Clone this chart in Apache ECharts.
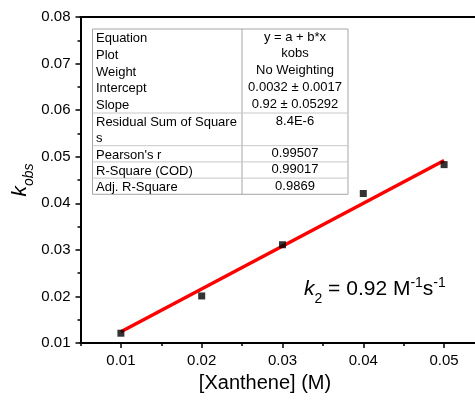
<!DOCTYPE html>
<html>
<head>
<meta charset="utf-8">
<script src="https://cdn.jsdelivr.net/npm/echarts@6/dist/echarts.min.js"></script>
<style>
  html, body { margin: 0; padding: 0; background: #fff; }
  #chart { width: 475px; height: 402px; }
</style>
</head>
<body>
<div id="chart"></div>
<script>
// Xanthene concentration (M) and observed rate constants
const xanthene = [0.01, 0.02, 0.03, 0.04, 0.05];
const kobs = [0.0121, 0.0201, 0.0311, 0.0421, 0.0483];

// Linear fit y = a + b*x
const fitIntercept = 0.0032;
const fitSlope = 0.92;

// Axis tick values
const xMajorTicks = [0.01, 0.02, 0.03, 0.04, 0.05];
const xMinorTicks = [0.005, 0.015, 0.025, 0.035, 0.045];

// Fit report table
const tableLabels = ['Equation', 'Plot', 'Weight', 'Intercept', 'Slope',
  'Residual Sum of Square\ns', "Pearson's r", 'R-Square (COD)', 'Adj. R-Square'];
const tableValues = ['y = a + b*x', 'kobs', 'No Weighting', '0.0032 \u00b1 0.0017',
  '0.92 \u00b1 0.05292', '8.4E-6', '0.99507', '0.99017', '0.9869'];

const FONT = 'Liberation Sans, Arial, sans-serif';

const fitLine = [xanthene[0], xanthene[xanthene.length - 1]]
  .map(x => [x, fitIntercept + fitSlope * x]);

// Table geometry
const tL = 92.5, tR = 348, tC = 242, tTop = 29;
const rowH = 16.8;
const rowTops = [];
let yy = tTop;
for (let i = 0; i < tableLabels.length; i++) {
  rowTops.push(yy);
  yy += (i === 5) ? 32.7 : (i > 5 ? 16.2 : rowH);
}
const tBottom = yy;

const graphics = [];
graphics.push({
  type: 'rect', z: 10,
  shape: { x: tL, y: tTop, width: tR - tL, height: tBottom - tTop },
  style: { fill: '#fff', stroke: '#a6a6a6', lineWidth: 1 }
});
graphics.push({
  type: 'line', z: 11,
  shape: { x1: tC, y1: tTop, x2: tC, y2: tBottom },
  style: { stroke: '#a6a6a6', lineWidth: 1 }
});
// separators after Slope, Residual, Pearson, R-Square rows
[5, 6, 7, 8].forEach(i => {
  graphics.push({
    type: 'line', z: 11,
    shape: { x1: tL, y1: rowTops[i], x2: tR, y2: rowTops[i] },
    style: { stroke: '#c8c8c8', lineWidth: 1 }
  });
});
tableLabels.forEach((lab, i) => {
  graphics.push({
    type: 'text', z: 12,
    style: {
      x: 96, y: rowTops[i] + 1.5, text: lab,
      font: '13px ' + FONT, fill: '#000',
      textVerticalAlign: 'top', lineHeight: 16
    }
  });
  graphics.push({
    type: 'text', z: 12,
    style: {
      x: (tC + tR) / 2, y: rowTops[i] + 1.5, text: tableValues[i],
      font: '13px ' + FONT, fill: '#000',
      textAlign: 'center', textVerticalAlign: 'top'
    }
  });
});

// Rate constant annotation
graphics.push({
  type: 'text', z: 12,
  style: {
    x: 304, y: 289,
    text: '{k|k}{sub|2}{n| = 0.92 M}{sup|-1}{n|s}{sup|-1}',
    textVerticalAlign: 'middle',
    rich: {
      k: { fontFamily: FONT, fontSize: 21, fontStyle: 'italic', lineHeight: 26, fill: '#000' },
      n: { fontFamily: FONT, fontSize: 21, lineHeight: 26, fill: '#000' },
      sub: { fontFamily: FONT, fontSize: 14, verticalAlign: 'bottom', lineHeight: 26, padding: [0, 0, -4, 0], fill: '#000' },
      sup: { fontFamily: FONT, fontSize: 14, verticalAlign: 'top', lineHeight: 26, padding: [0, 0, 4, 0], fill: '#000' }
    }
  }
});

// X axis title
graphics.push({
  type: 'text',
  style: {
    x: 265, y: 383, text: '[Xanthene] (M)',
    font: '20px ' + FONT, fill: '#000',
    textAlign: 'center', textVerticalAlign: 'middle'
  }
});

const chart = echarts.init(document.getElementById('chart'), null, { renderer: 'canvas' });

const axisLabelStyle = { color: '#000', fontFamily: FONT, fontSize: 15 };

chart.setOption({
  backgroundColor: '#fff',
  animation: false,
  grid: { left: 80.5, top: 17, width: 404, height: 326, show: false, containLabel: false, outerBoundsMode: 'none' },
  xAxis: [
    {
      type: 'value', min: 0.005, max: 0.055, position: 'bottom',
      axisLine: { show: true, onZero: false, lineStyle: { color: '#000', width: 2 } },
      axisTick: { show: true, length: 5, customValues: xMajorTicks, lineStyle: { color: '#000', width: 1.5 } },
      axisLabel: { show: true, customValues: xMajorTicks, margin: 10, formatter: v => v.toFixed(2), ...axisLabelStyle },
      splitLine: { show: false }
    },
    {
      type: 'value', min: 0.005, max: 0.055, position: 'bottom', offset: 0,
      axisLine: { show: false, onZero: false },
      axisTick: { show: true, length: 3, customValues: xMinorTicks, lineStyle: { color: '#000', width: 1.5 } },
      axisLabel: { show: false },
      splitLine: { show: false }
    },
    {
      type: 'value', min: 0.005, max: 0.055, position: 'top',
      axisLine: { show: true, onZero: false, lineStyle: { color: '#000', width: 2 } },
      axisTick: { show: false }, axisLabel: { show: false }, splitLine: { show: false }
    }
  ],
  yAxis: {
    type: 'value', min: 0.01, max: 0.08, interval: 0.01,
    axisLine: { show: true, onZero: false, lineStyle: { color: '#000', width: 2 } },
    axisTick: { show: true, length: 5, lineStyle: { color: '#000', width: 1.5 } },
    minorTick: { show: true, splitNumber: 2, length: 3, lineStyle: { color: '#000', width: 1.5 } },
    axisLabel: { margin: 10, formatter: v => v.toFixed(2), ...axisLabelStyle },
    splitLine: { show: false },
    name: '{k|k}{s|obs}',
    nameLocation: 'middle', nameRotate: 90, nameGap: 48, nameMoveOverlap: false,
    nameTextStyle: {
      rich: {
        k: { fontFamily: FONT, fontSize: 21, fontStyle: 'italic', color: '#000', lineHeight: 24 },
        s: { fontFamily: FONT, fontSize: 14, fontStyle: 'italic', color: '#000', verticalAlign: 'bottom', lineHeight: 24, padding: [0, 0, -4, 0] }
      }
    }
  },
  series: [
    {
      type: 'line', data: fitLine, showSymbol: false, z: 2,
      lineStyle: { color: '#ff0000', width: 3.5 }, silent: true
    },
    {
      type: 'scatter', data: xanthene.map((x, i) => [x, kobs[i]]), z: 3,
      symbol: 'rect', symbolSize: 7, itemStyle: { color: '#000' }
    }
  ],
  graphic: graphics
});
</script>
</body>
</html>
